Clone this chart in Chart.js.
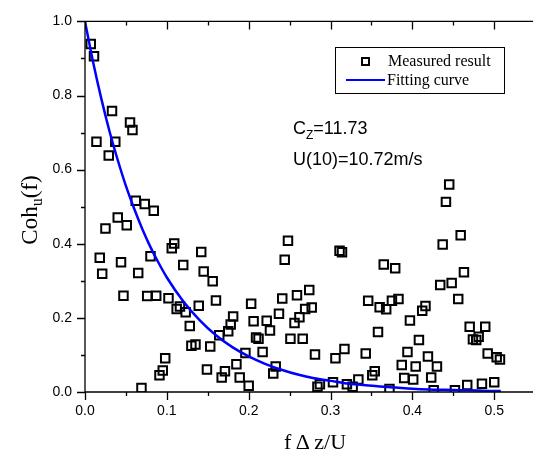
<!DOCTYPE html>
<html>
<head>
<meta charset="utf-8">
<script src="https://cdn.jsdelivr.net/npm/chart.js@4.4.1/dist/chart.umd.min.js"></script>
<style>
html, body { margin: 0; padding: 0; background: #fff; }
</style>
</head>
<body>
<canvas id="chart" width="533" height="456"></canvas>
<script>
// measured coherence points
const measuredX = [
    0.007, 0.011, 0.033, 0.055, 0.058, 0.014, 0.037, 0.029,
    0.062, 0.073, 0.084, 0.040, 0.051, 0.025, 0.109, 0.106, 0.142, 0.018,
    0.080, 0.044, 0.120, 0.021, 0.065, 0.145, 0.156, 0.047, 0.076, 0.087,
    0.102, 0.160, 0.203, 0.139, 0.116, 0.112, 0.123, 0.181, 0.206, 0.178,
    0.128, 0.175, 0.164, 0.209, 0.130, 0.135, 0.153, 0.196, 0.098, 0.185,
    0.149, 0.171, 0.095, 0.091, 0.167, 0.189, 0.200, 0.069,
    0.445, 0.441, 0.459, 0.437, 0.248, 0.244, 0.311, 0.314, 0.365, 0.379,
    0.463, 0.434, 0.448, 0.456, 0.241, 0.259, 0.274, 0.277, 0.269, 0.262,
    0.256, 0.237, 0.222, 0.226, 0.212, 0.251, 0.266, 0.217, 0.281, 0.306,
    0.317, 0.343, 0.346, 0.360, 0.368, 0.375, 0.383, 0.358, 0.397, 0.412,
    0.416, 0.408, 0.394, 0.387, 0.404, 0.419, 0.430, 0.390, 0.401, 0.423,
    0.470, 0.489, 0.474, 0.478, 0.481, 0.492, 0.503, 0.507, 0.467, 0.485,
    0.500, 0.233, 0.230, 0.284, 0.287, 0.303, 0.320, 0.327, 0.334, 0.351,
    0.354, 0.372, 0.426, 0.452
];
const measuredY = [
    0.939, 0.906, 0.758, 0.727, 0.707, 0.675, 0.675, 0.638,
    0.516, 0.507, 0.489, 0.471, 0.450, 0.441, 0.401, 0.388, 0.378, 0.362,
    0.366, 0.350, 0.343, 0.319, 0.321, 0.325, 0.299, 0.260, 0.259, 0.260,
    0.253, 0.247, 0.238, 0.233, 0.231, 0.224, 0.215, 0.204, 0.191, 0.182,
    0.178, 0.164, 0.153, 0.147, 0.125, 0.128, 0.123, 0.105, 0.091, 0.075,
    0.061, 0.056, 0.058, 0.045, 0.039, 0.039, 0.017, 0.011,
    0.560, 0.513, 0.423, 0.398, 0.408, 0.357, 0.381, 0.377, 0.344, 0.334,
    0.323, 0.289, 0.294, 0.251, 0.252, 0.261, 0.275, 0.228, 0.224, 0.202,
    0.186, 0.211, 0.192, 0.166, 0.144, 0.144, 0.144, 0.108, 0.101, 0.091,
    0.116, 0.104, 0.246, 0.229, 0.223, 0.246, 0.251, 0.162, 0.193, 0.219,
    0.232, 0.140, 0.108, 0.073, 0.069, 0.096, 0.069, 0.038, 0.034, 0.039,
    0.176, 0.176, 0.142, 0.140, 0.149, 0.104, 0.094, 0.088, 0.019, 0.022,
    0.026, 0.069, 0.050, 0.014, 0.021, 0.026, 0.021, 0.014, 0.034, 0.045,
    0.056, 0.008, 0.005, 0.005
];

// fitting curve
const fitX = [0, 0.01, 0.02, 0.03, 0.04, 0.05, 0.06, 0.07, 0.08, 0.09, 0.10,
    0.12, 0.14, 0.16, 0.18, 0.20, 0.22, 0.24, 0.26, 0.28, 0.30, 0.32, 0.34,
    0.36, 0.38, 0.40, 0.42, 0.44, 0.46, 0.48, 0.50, 0.508];
const fitY = [1.000, 0.889, 0.791, 0.703, 0.626, 0.556, 0.495, 0.440, 0.391, 0.348, 0.309,
    0.245, 0.194, 0.153, 0.121, 0.096, 0.076, 0.060, 0.047, 0.037, 0.030, 0.023, 0.019,
    0.015, 0.012, 0.009, 0.007, 0.006, 0.005, 0.004, 0.003, 0.003];

const xTicks = [0, 0.1, 0.2, 0.3, 0.4, 0.5];
const xMinorTicks = [0.05, 0.15, 0.25, 0.35, 0.45];
const yTicks = [0, 0.2, 0.4, 0.6, 0.8, 1.0];
const yMinorTicks = [0.1, 0.3, 0.5, 0.7, 0.9];

const SANS = '"Liberation Sans", Arial, sans-serif';
const SERIF = '"Liberation Serif", "Times New Roman", serif';

// axes with ticks like Origin: left/bottom outward, top inward
const axesPlugin = {
    id: 'originAxes',
    afterDatasetsDraw(chart) {
        const { ctx, chartArea: a, scales } = chart;
        const W = chart.width;
        ctx.save();
        ctx.strokeStyle = '#000';
        ctx.lineWidth = 1.3;
        ctx.beginPath();
        ctx.moveTo(a.left, a.top); ctx.lineTo(a.left, a.bottom);
        ctx.moveTo(a.left, a.bottom); ctx.lineTo(W, a.bottom);
        ctx.moveTo(a.left, a.top); ctx.lineTo(W, a.top);
        const tickX = (v, len) => {
            const px = Math.round(scales.x.getPixelForValue(v)) + 0.5;
            ctx.moveTo(px, a.bottom); ctx.lineTo(px, a.bottom + len);
            ctx.moveTo(px, a.top); ctx.lineTo(px, a.top + len);
        };
        const tickY = (v, len) => {
            const py = Math.round(scales.y.getPixelForValue(v)) + 0.5;
            ctx.moveTo(a.left, py); ctx.lineTo(a.left - len, py);
        };
        xTicks.forEach(v => tickX(v, 8));
        xMinorTicks.forEach(v => tickX(v, 4));
        yTicks.forEach(v => tickY(v, 8));
        yMinorTicks.forEach(v => tickY(v, 4));
        ctx.stroke();
        ctx.restore();
    },
    afterDraw(chart) {
        const { ctx } = chart;
        ctx.save();
        ctx.fillStyle = '#000';

        // y title: Coh_u(f)
        ctx.translate(37, 210);
        ctx.rotate(-Math.PI / 2);
        ctx.textBaseline = 'alphabetic';
        ctx.font = '23px ' + SERIF;
        const w1 = ctx.measureText('Coh').width;
        const w3 = ctx.measureText('(f)').width;
        ctx.font = '16px ' + SERIF;
        const w2 = ctx.measureText('u').width;
        let x0 = -(w1 + w2 + w3) / 2;
        ctx.font = '23px ' + SERIF;
        ctx.fillText('Coh', x0, 0);
        ctx.font = '16px ' + SERIF;
        ctx.fillText('u', x0 + w1, 5);
        ctx.font = '23px ' + SERIF;
        ctx.fillText('(f)', x0 + w1 + w2, 0);
        ctx.setTransform(1, 0, 0, 1, 0, 0);

        // x title
        ctx.font = '22px ' + SERIF;
        ctx.textAlign = 'center';
        ctx.fillText('f\u2009\u0394\u2009z/U', 315, 449);

        // annotations
        ctx.textAlign = 'left';
        ctx.font = '18px ' + SANS;
        ctx.fillText('C', 293, 134);
        const cw = ctx.measureText('C').width;
        ctx.font = '12px ' + SANS;
        ctx.fillText('Z', 293 + cw, 139);
        const zw = ctx.measureText('Z').width;
        ctx.font = '18px ' + SANS;
        ctx.fillText('=11.73', 293 + cw + zw, 134);
        ctx.fillText('U(10)=10.72m/s', 293, 165);

        // legend box
        ctx.strokeStyle = '#000';
        ctx.lineWidth = 1;
        ctx.strokeRect(335.5, 47.5, 169, 46);
        ctx.lineWidth = 2;
        ctx.strokeRect(362, 58, 7, 7);
        ctx.strokeStyle = '#0000ff';
        ctx.beginPath();
        ctx.moveTo(346, 80); ctx.lineTo(385, 80);
        ctx.stroke();
        ctx.font = '16px ' + SERIF;
        ctx.fillText('Measured result', 388, 66);
        ctx.fillText('Fitting curve', 387, 85);
        ctx.restore();
    }
};

const ctx = document.getElementById('chart');

new Chart(ctx, {
    type: 'scatter',
    data: {
        datasets: [
            {
                label: 'Fitting curve',
                type: 'line',
                data: fitX.map((x, i) => ({ x: x, y: fitY[i] })),
                borderColor: '#0000ff',
                borderWidth: 2.5,
                pointRadius: 0,
                fill: false,
                cubicInterpolationMode: 'monotone',
                order: 0
            },
            {
                label: 'Measured result',
                data: measuredX.map((x, i) => ({ x: x, y: measuredY[i] })),
                pointStyle: 'rect',
                pointRadius: 6,
                borderWidth: 2,
                borderColor: '#000',
                backgroundColor: 'rgba(0,0,0,0)',
                order: 1
            }
        ]
    },
    options: {
        responsive: false,
        animation: false,
        devicePixelRatio: 1,
        layout: { padding: { top: 14, right: 0, bottom: 0, left: 0 } },
        plugins: { legend: { display: false }, tooltip: { enabled: false } },
        scales: {
            x: {
                type: 'linear',
                min: 0,
                max: 0.5376,
                afterBuildTicks: s => { s.ticks = xTicks.map(v => ({ value: v })); },
                afterFit: s => { s.height = 64; },
                grid: { display: false, drawTicks: false },
                border: { display: false },
                ticks: {
                    autoSkip: false,
                    maxRotation: 0,
                    padding: 11,
                    color: '#000',
                    font: { family: SANS, size: 14 },
                    callback: v => Number(v).toFixed(1)
                }
            },
            y: {
                min: 0,
                max: 1,
                afterBuildTicks: s => { s.ticks = yTicks.map(v => ({ value: v })); },
                afterFit: s => { s.width = 85; },
                grid: { display: false, drawTicks: false },
                border: { display: false },
                ticks: {
                    autoSkip: false,
                    padding: 13,
                    color: '#000',
                    font: { family: SANS, size: 14 },
                    callback: v => Number(v).toFixed(1)
                }
            }
        }
    },
    plugins: [axesPlugin]
});
</script>
</body>
</html>
